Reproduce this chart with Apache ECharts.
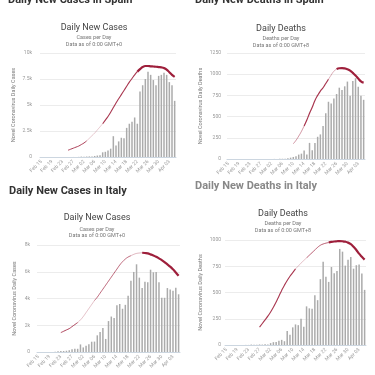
<!DOCTYPE html>
<html>
<head>
<meta charset="utf-8">
<script src="https://cdn.jsdelivr.net/npm/echarts@6/dist/echarts.min.js"></script>
<style>
  html, body { margin: 0; padding: 0; background: #fff; }
  #chart { width: 375px; height: 375px; }
</style>
</head>
<body>
<div id="chart"></div>
<script>
// categories, Feb 15 .. Apr 05
const dates = [
  "Feb 15", "Feb 16", "Feb 17", "Feb 18", "Feb 19", "Feb 20", "Feb 21", "Feb 22", "Feb 23", "Feb 24",
  "Feb 25", "Feb 26", "Feb 27", "Feb 28", "Feb 29", "Mar 01", "Mar 02", "Mar 03", "Mar 04", "Mar 05",
  "Mar 06", "Mar 07", "Mar 08", "Mar 09", "Mar 10", "Mar 11", "Mar 12", "Mar 13", "Mar 14", "Mar 15",
  "Mar 16", "Mar 17", "Mar 18", "Mar 19", "Mar 20", "Mar 21", "Mar 22", "Mar 23", "Mar 24", "Mar 25",
  "Mar 26", "Mar 27", "Mar 28", "Mar 29", "Mar 30", "Mar 31", "Apr 01", "Apr 02", "Apr 03", "Apr 04",
  "Apr 05"
];

// daily bars
const spainCases = [
  0, 0, 0, 0, 0, 0, 0, 0, 0, 1,
  4, 2, 4, 2, 13, 39, 36, 45, 57, 37,
  100, 140, 170, 450, 500, 620, 800, 2000, 1100, 1500,
  1850, 1800, 2800, 3200, 3400, 3800, 3200, 6300, 6900, 7500,
  8200, 7900, 7400, 6900, 7800, 7900, 8100, 7900, 7200, 6900,
  5400
];
const spainDeaths = [
  0, 0, 0, 0, 0, 0, 0, 0, 0, 0,
  0, 0, 0, 0, 0, 0, 0, 1, 0, 2,
  3, 3, 8, 16, 24, 32, 52, 63, 99, 52,
  190, 103, 190, 262, 290, 389, 540, 675, 655, 714,
  766, 841, 813, 857, 913, 746, 921, 952, 853, 746,
  698
];
const italyCases = [
  0, 0, 0, 0, 0, 0, 17, 59, 71, 77,
  93, 125, 205, 238, 240, 566, 342, 466, 587, 769,
  778, 1247, 1492, 1797, 977, 2313, 2651, 2547, 3497, 3590,
  3233, 3526, 4207, 5322, 5986, 6557, 5560, 4789, 5249, 5210,
  6153, 5959, 5974, 5217, 4050, 4053, 4782, 4668, 4585, 4805,
  4316
];
const italyDeaths = [
  0, 0, 0, 0, 0, 0, 1, 1, 1, 4,
  3, 2, 5, 4, 8, 5, 18, 27, 28, 41,
  49, 36, 133, 97, 168, 196, 189, 250, 175, 368,
  349, 345, 475, 427, 627, 793, 651, 601, 743, 683,
  705, 915, 889, 756, 812, 837, 727, 760, 766, 681,
  525
];

// trend lines (null before the line starts)
const spainCasesTrend = [
  null, null, null, null, null, null, null, null, null, null,
  650, 750, 850, 950, 1050, 1200, 1350, 1550, 1800, 2050,
  2300, 2600, 2900, 3200, 3550, 3900, 4300, 4750, 5200, 5600,
  6000, 6400, 6800, 7200, 7550, 7900, 8200, 8450, 8650, 8750,
  8750, 8720, 8700, 8680, 8650, 8620, 8550, 8400, 8150, 7900,
  7700
];
const spainDeathsTrend = [
  null, null, null, null, null, null, null, null, null, null,
  null, null, null, null, null, null, null, null, null, null,
  null, null, null, null, 180, 220, 270, 325, 390, 460,
  540, 610, 690, 750, 800, 840, 890, 940, 990, 1035,
  1060, 1070, 1072, 1068, 1058, 1042, 1015, 985, 950, 915,
  900
];
const italyCasesTrend = [
  null, null, null, null, null, null, null, null, 1450, 1550,
  1650, 1750, 1900, 2050, 2200, 2400, 2650, 2950, 3250, 3550,
  3850, 4100, 4400, 4700, 5000, 5300, 5600, 5900, 6200, 6500,
  6750, 6950, 7100, 7200, 7300, 7370, 7400, 7420, 7400, 7370,
  7300, 7220, 7120, 7000, 6870, 6720, 6550, 6380, 6180, 5950,
  5700
];
const italyDeathsTrend = [
  null, null, null, null, null, null, null, null, null, null,
  null, null, 170, 205, 240, 275, 315, 360, 410, 465,
  520, 570, 615, 655, 690, 725, 752, 780, 805, 830,
  855, 880, 905, 930, 950, 962, 970, 976, 982, 986,
  988, 989, 988, 984, 975, 960, 935, 905, 870, 840,
  813
];

const headings = ["Daily New Cases in Spain", "Daily New Deaths in Spain", "Daily New Cases in Italy", "Daily New Deaths in Italy"];
const chartTitles = ["Daily New Cases", "Daily Deaths", "Daily New Cases", "Daily Deaths"];
const subTitles = ["Cases per Day", "Deaths per Day", "Cases per Day", "Deaths per Day"];
const dataNotes = ["Data as of 0:00 GMT+0", "Data as of 0:00 GMT+8", "Data as of 0:00 GMT+0", "Data as of 0:00 GMT+8"];
const yNames = ["Novel Coronavirus Daily Cases", "Novel Coronavirus Daily Deaths", "Novel Coronavirus Daily Cases", "Novel Coronavirus Daily Deaths"];

const panels = [
  { bars: spainCases, trend: spainCasesTrend, max: 10000, step: 2500, k: true,
    grid: { left: 40, top: 53, width: 136, height: 104 }, nameGap: 23, labelMargin: 8,
    heading: [8, 0], headColor: "#333", title: [94, 28], sub: [94, 38],
    segs: [[10, 17, 1, 0.85], [17, 23, 0.7, 0.35], [23, 36, 1.1, 0.9], [36, 50, 2.2, 1]] },
  { bars: spainDeaths, trend: spainDeathsTrend, max: 1250, step: 250, k: false,
    grid: { left: 227, top: 53, width: 138, height: 106 }, nameGap: 23, labelMargin: 6,
    heading: [195, 0], headColor: "#333", title: [281, 29], sub: [281, 39],
    segs: [[24, 28, 0.8, 0.6], [28, 37, 1.2, 0.9], [37, 40, 0.8, 0.45], [40, 50, 2.2, 1]] },
  { bars: italyCases, trend: italyCasesTrend, max: 8000, step: 2000, k: true,
    grid: { left: 37, top: 245, width: 143, height: 107 }, nameGap: 19, labelMargin: 7,
    heading: [9, 191], headColor: "#333", title: [97, 218], sub: [97, 229.5],
    segs: [[8, 14, 1, 0.85], [14, 20, 0.7, 0.4], [20, 33, 0.9, 0.75], [33, 37, 0.8, 0.4], [37, 50, 2.2, 1]] },
  { bars: italyDeaths, trend: italyDeathsTrend, max: 1000, step: 250, k: false,
    grid: { left: 225, top: 240, width: 141, height: 105 }, nameGap: 21, labelMargin: 4,
    heading: [195, 186], headColor: "#888", title: [283, 214], sub: [283, 224],
    segs: [[12, 25, 1.1, 0.9], [25, 29, 0.7, 0.4], [29, 37, 0.9, 0.8], [37, 50, 2.2, 1]] }
];

const chart = echarts.init(document.getElementById("chart"));

const option = {
  animation: false,
  backgroundColor: "#fff",
  grid: [],
  xAxis: [],
  yAxis: [],
  series: [],
  graphic: []
};

panels.forEach((p, n) => {
  option.grid.push(p.grid);
  option.xAxis.push({
    type: "category",
    gridIndex: n,
    data: dates,
    axisTick: { show: false },
    axisLine: { show: true, lineStyle: { color: "#ccd6e0", width: 1 } },
    axisLabel: { interval: 3, rotate: 45, fontSize: 5, color: "#999", margin: 4, fontFamily: "Roboto" }
  });
  option.yAxis.push({
    type: "value",
    gridIndex: n,
    min: 0,
    max: p.max,
    interval: p.step,
    name: yNames[n],
    nameLocation: "middle",
    nameGap: p.nameGap,
    nameTextStyle: { fontSize: 5.5, color: "#777", fontFamily: "Roboto" },
    axisLine: { show: false },
    axisTick: { show: false },
    splitLine: { lineStyle: { color: "#ececec", width: 1 } },
    axisLabel: {
      fontSize: 5, color: "#999", margin: p.labelMargin, fontFamily: "Roboto",
      formatter: v => (p.k && v !== 0 ? v / 1000 + "k" : String(v))
    }
  });
  option.series.push({
    type: "bar",
    xAxisIndex: n,
    yAxisIndex: n,
    data: p.bars,
    barWidth: 1.5,
    itemStyle: { color: "#ababab" },
    z: 2
  });
  // trend drawn in pieces so it thickens toward the end
  p.segs.forEach(s => {
    option.series.push({
      type: "line",
      xAxisIndex: n,
      yAxisIndex: n,
      data: p.trend.map((v, i) => (i >= s[0] && i <= s[1] ? v : null)),
      smooth: true,
      showSymbol: false,
      symbol: "none",
      lineStyle: { color: "#9e1f3b", width: s[2], opacity: s[3] },
      z: 3
    });
  });

  option.graphic.push(
    {
      type: "text", x: p.heading[0], y: p.heading[1],
      style: { text: headings[n], fontSize: 11, fontWeight: "bold", fontFamily: "Roboto", fill: p.headColor, align: "left", verticalAlign: "middle" }
    },
    {
      type: "text", x: p.title[0], y: p.title[1],
      style: { text: chartTitles[n], fontSize: 9, fontFamily: "Roboto", fill: "#444", align: "center", verticalAlign: "middle" }
    },
    {
      type: "text", x: p.sub[0], y: p.sub[1],
      style: { text: subTitles[n], fontSize: 5.5, fontFamily: "Roboto", fill: "#777", align: "center", verticalAlign: "middle" }
    },
    {
      type: "text", x: p.sub[0], y: p.sub[1] + 6.5,
      style: { text: dataNotes[n], fontSize: 5.5, fontFamily: "Roboto", fill: "#777", align: "center", verticalAlign: "middle" }
    }
  );
});

chart.setOption(option);
</script>
</body>
</html>
